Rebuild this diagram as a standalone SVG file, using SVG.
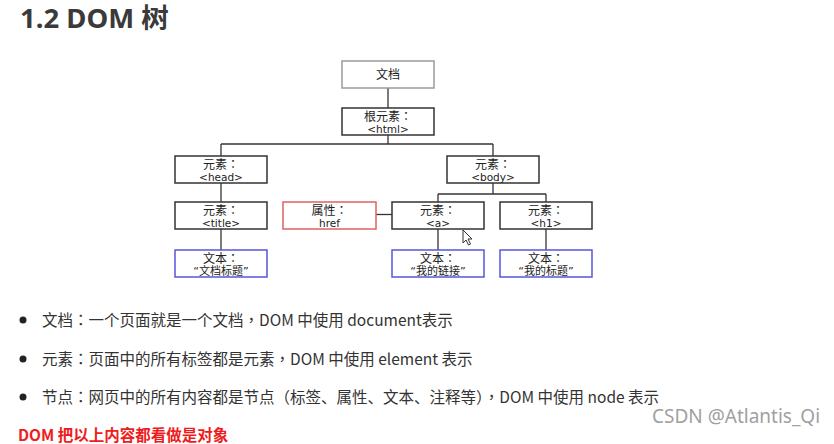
<svg xmlns="http://www.w3.org/2000/svg" width="834" height="444" viewBox="0 0 834 444">
<style>
.box{fill:#fff;stroke:#333;stroke-width:1.5}
.gray{stroke:#9a9a9a}
.red{stroke:#e06060}
.blue{stroke:#5555dd}
.nt{font-family:"DejaVu Sans","Noto Sans CJK SC",sans-serif;font-size:12px;fill:#222;text-anchor:middle}
.n2{font-size:10.5px}
.n3{font-size:11px}
.con line{stroke:#333;stroke-width:1.3}
.bt{font-family:"Noto Sans CJK SC","Noto Sans",sans-serif;font-size:15.5px;fill:#333}
.p{font-family:"Noto Sans CJK TC",sans-serif}
</style>
<rect width="834" height="444" fill="#fff"/>
<text x="20" y="27.5" font-family="Noto Sans, Noto Sans CJK SC, sans-serif" font-size="27.5" font-weight="bold" fill="#3a3a3a">1.2 DOM 树</text>

<g class="con" id="connectors">
<line x1="388" y1="88" x2="388" y2="108"/>
<line x1="388" y1="135" x2="388" y2="144"/>
<line x1="221" y1="144" x2="493" y2="144"/>
<line x1="221" y1="144" x2="221" y2="156"/>
<line x1="493" y1="144" x2="493" y2="156"/>
<line x1="221" y1="183" x2="221" y2="202"/>
<line x1="221" y1="229" x2="221" y2="250"/>
<line x1="493" y1="183" x2="493" y2="194"/>
<line x1="438" y1="194" x2="546" y2="194"/>
<line x1="438" y1="194" x2="438" y2="202"/>
<line x1="546" y1="194" x2="546" y2="202"/>
<line x1="438" y1="229" x2="438" y2="250"/>
<line x1="546" y1="229" x2="546" y2="250"/>
<line x1="376" y1="214.5" x2="392" y2="214.5"/>
</g>

<g id="doc"><rect class="box gray" x="342" y="61" width="92" height="27"/><text class="nt" x="388" y="78.5">文档</text></g>
<g id="html"><rect class="box" x="342" y="108" width="92" height="27"/><text class="nt" x="388" y="121">根元素<tspan class="p">：</tspan></text><text class="nt n2" x="388" y="132.5">&lt;html&gt;</text></g>
<g id="head"><rect class="box" x="175" y="156" width="92" height="27"/><text class="nt" x="221" y="169">元素<tspan class="p">：</tspan></text><text class="nt n2" x="221" y="180.5">&lt;head&gt;</text></g>
<g id="body"><rect class="box" x="447" y="156" width="92" height="27"/><text class="nt" x="493" y="169">元素<tspan class="p">：</tspan></text><text class="nt n2" x="493" y="180.5">&lt;body&gt;</text></g>
<g id="title"><rect class="box" x="175" y="202" width="92" height="27"/><text class="nt" x="221" y="215">元素<tspan class="p">：</tspan></text><text class="nt n2" x="221" y="226.5">&lt;title&gt;</text></g>
<g id="href"><rect class="box red" x="283" y="202" width="93" height="27"/><text class="nt" x="329.5" y="215">属性<tspan class="p">：</tspan></text><text class="nt n2" x="329.5" y="226.5">href</text></g>
<g id="a"><rect class="box" x="392" y="202" width="92" height="27"/><text class="nt" x="438" y="215">元素<tspan class="p">：</tspan></text><text class="nt n2" x="438" y="226.5">&lt;a&gt;</text></g>
<g id="h1"><rect class="box" x="500" y="202" width="92" height="27"/><text class="nt" x="546" y="215">元素<tspan class="p">：</tspan></text><text class="nt n2" x="546" y="226.5">&lt;h1&gt;</text></g>
<g id="text-title"><rect class="box blue" x="175" y="250" width="92" height="27"/><text class="nt" x="221" y="262.5">文本<tspan class="p">：</tspan></text><text class="nt n3" x="221" y="275">“文档标题”</text></g>
<g id="text-a"><rect class="box blue" x="392" y="250" width="92" height="27"/><text class="nt" x="438" y="262.5">文本<tspan class="p">：</tspan></text><text class="nt n3" x="438" y="275">“我的链接”</text></g>
<g id="text-h1"><rect class="box blue" x="500" y="250" width="92" height="27"/><text class="nt" x="546" y="262.5">文本<tspan class="p">：</tspan></text><text class="nt n3" x="546" y="275">“我的标题”</text></g>

<polygon points="463,230 463,243 466,240 468.5,245 470.5,244 468,239 472,239" fill="#fff" stroke="#333" stroke-width="1"/>

<circle cx="23" cy="320" r="3.5" fill="#222"/>
<circle cx="23" cy="359" r="3.5" fill="#222"/>
<circle cx="23" cy="397" r="3.5" fill="#222"/>
<text class="bt" x="42" y="326.3">文档<tspan class="p">：</tspan>一个页面就是一个文档<tspan class="p">，</tspan>DOM 中使用 document表示</text>
<text class="bt" x="42" y="365">元素<tspan class="p">：</tspan>页面中的所有标签都是元素<tspan class="p">，</tspan>DOM 中使用 element 表示</text>
<text class="bt" x="42" y="402.5">节点<tspan class="p">：</tspan>网页中的所有内容都是节点<tspan class="p">（</tspan>标签、属性、文本、注释等<tspan class="p">），</tspan>DOM 中使用 node 表示</text>
<text x="18" y="441" font-family="Noto Sans CJK SC, Noto Sans, sans-serif" font-size="15.5" font-weight="bold" fill="#ee1c1c">DOM 把以上内容都看做是对象</text>
<text x="652" y="423" font-family="Noto Sans, sans-serif" font-size="19" fill="#a0a0a0">CSDN @Atlantis_Qi</text>
</svg>
